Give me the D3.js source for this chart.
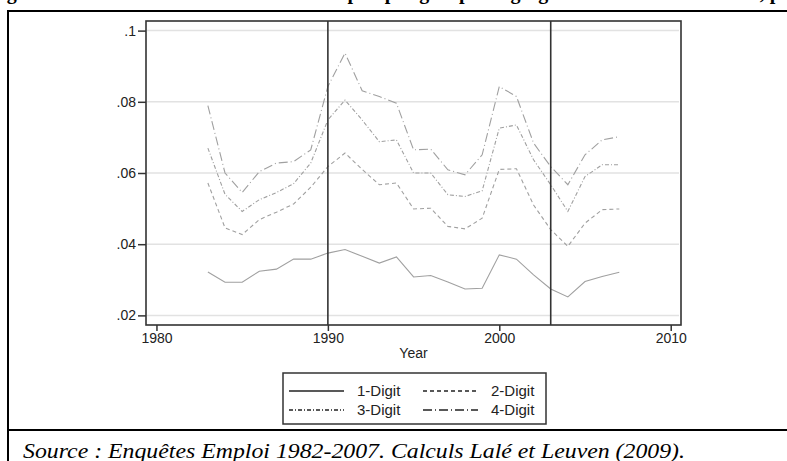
<!DOCTYPE html>
<html>
<head>
<meta charset="utf-8">
<script src="https://cdn.jsdelivr.net/npm/d3@7"></script>
<style>
  body { margin: 0; background: #fff; }
  svg { display: block; }
  .tick text { font-family: "Liberation Sans", Arial, sans-serif; font-size: 14px; fill: #222; }
</style>
</head>
<body>
<div id="chart"></div>
<script>
// data
var years = [1983, 1984, 1985, 1986, 1987, 1988, 1989, 1990, 1991, 1992, 1993, 1994, 1995,
    1996, 1997, 1998, 1999, 2000, 2001, 2002, 2003, 2004, 2005, 2006, 2007];
var digit1 = [.0322, .0293, .0293, .0324, .0330, .0358, .0358, .0375, .0385, .0366, .0347, .0364, .0308,
    .0312, .0294, .0274, .0276, .0370, .0358, .0314, .0274, .0252, .0295, .0309, .0321];
var digit2 = [.0572, .0446, .0427, .0469, .0490, .0513, .0560, .0618, .0656, .0610, .0567, .0572, .0499,
    .0501, .0450, .0443, .0473, .0610, .0612, .0510, .0441, .0394, .0459, .0497, .0499];
var digit3 = [.0670, .0540, .0492, .0525, .0545, .0570, .0628, .0749, .0805, .0749, .0688, .0693, .0600,
    .0600, .0539, .0534, .0550, .0726, .0735, .0637, .0567, .0492, .0590, .0623, .0623];
var digit4 = [.0789, .0600, .0545, .0604, .0628, .0632, .0665, .0843, .0937, .0831, .0815, .0796, .0665,
    .0667, .0609, .0595, .0651, .0843, .0815, .0684, .0618, .0567, .0651, .0693, .0702];
var seriesNames = ["1-Digit", "2-Digit", "3-Digit", "4-Digit"];
var xTicks = [1980, 1990, 2000, 2010];
var yTicks = [.02, .04, .06, .08, .1];
var markerYears = [1990, 2003];

var dashes = ["none", "4,3", "4,2,1,2", "9,3,1,3"];
var allSeries = [digit1, digit2, digit3, digit4];

var W = 787, H = 461;
var plot = { left: 146, right: 681, top: 21, bottom: 325 };

var svg = d3.select("#chart").append("svg")
    .attr("width", W)
    .attr("height", H);

svg.append("rect").attr("width", W).attr("height", H).attr("fill", "#fff");

// caption sits above the crop, only its lower edge shows
svg.append("text")
    .attr("x", -11)
    .attr("y", -1)
    .style("font-family", "Liberation Serif, serif")
    .style("font-weight", "bold")
    .style("font-size", "20px")
    .text("Figure 4 : Mobilité intersectorielle de l'emploi par groupe d'agrégation de la nomenclature, par période");

// outer table borders
svg.append("line").attr("x1", 8).attr("x2", W).attr("y1", 11).attr("y2", 11)
    .attr("stroke", "#000").attr("stroke-width", 2);
svg.append("line").attr("x1", 8).attr("x2", 8).attr("y1", 10).attr("y2", H)
    .attr("stroke", "#000").attr("stroke-width", 2);
svg.append("line").attr("x1", 8).attr("x2", W).attr("y1", 430).attr("y2", 430)
    .attr("stroke", "#000").attr("stroke-width", 2);

var x = d3.scaleLinear()
    .domain([1979.39, 2010.6])
    .range([plot.left, plot.right]);

var y = d3.scaleLinear()
    .domain([0.0173, 0.1027])
    .range([plot.bottom, plot.top]);

// grid
svg.append("g")
    .selectAll("line")
    .data(yTicks)
    .enter().append("line")
    .attr("x1", plot.left + 1)
    .attr("x2", plot.right - 2)
    .attr("y1", function(d) { return y(d); })
    .attr("y2", function(d) { return y(d); })
    .attr("stroke", "#e2e2e2")
    .attr("stroke-width", 1.5);

// series
var line = d3.line()
    .x(function(d, i) { return x(years[i]); })
    .y(function(d) { return y(d); });

svg.append("g")
    .selectAll("path")
    .data(allSeries)
    .enter().append("path")
    .attr("d", line)
    .attr("fill", "none")
    .attr("stroke", "#a0a0a0")
    .attr("stroke-width", 1.1)
    .attr("stroke-dasharray", function(d, i) { return dashes[i]; });

// period markers
svg.append("g")
    .selectAll("line")
    .data(markerYears)
    .enter().append("line")
    .attr("x1", function(d) { return x(d); })
    .attr("x2", function(d) { return x(d); })
    .attr("y1", plot.top)
    .attr("y2", plot.bottom)
    .attr("stroke", "#333")
    .attr("stroke-width", 1.6);

// frame
svg.append("rect")
    .attr("x", plot.left)
    .attr("y", plot.top)
    .attr("width", plot.right - plot.left)
    .attr("height", plot.bottom - plot.top)
    .attr("fill", "none")
    .attr("stroke", "#333")
    .attr("stroke-width", 1.6);

var yAxis = d3.axisLeft(y)
    .tickValues(yTicks)
    .tickSize(8)
    .tickPadding(2)
    .tickFormat(function(d) { return d3.format(".2~f")(d).replace(/^0/, ""); });

var xAxis = d3.axisBottom(x)
    .tickValues(xTicks)
    .tickSize(6)
    .tickPadding(2)
    .tickFormat(d3.format("d"));

var gy = svg.append("g")
    .attr("transform", "translate(" + plot.left + ",0)")
    .call(yAxis);
gy.select(".domain").remove();
gy.selectAll(".tick line").attr("stroke", "#333").attr("stroke-width", 1.5);

var gx = svg.append("g")
    .attr("transform", "translate(0," + plot.bottom + ")")
    .call(xAxis);
gx.select(".domain").remove();
gx.selectAll(".tick line").attr("stroke", "#333").attr("stroke-width", 1.5);

svg.append("text")
    .attr("x", (plot.left + plot.right) / 2)
    .attr("y", 358)
    .attr("text-anchor", "middle")
    .style("font-family", "Liberation Sans, Arial, sans-serif")
    .style("font-size", "14px")
    .style("fill", "#222")
    .text("Year");

// legend
var legend = svg.append("g").attr("transform", "translate(283,373)");
legend.append("rect")
    .attr("width", 263)
    .attr("height", 51)
    .attr("fill", "#fff")
    .attr("stroke", "#333")
    .attr("stroke-width", 1.5);

var item = legend.selectAll(".item")
    .data(seriesNames)
    .enter().append("g")
    .attr("class", "item")
    .attr("transform", function(d, i) {
        return "translate(" + (6 + (i % 2) * 134) + "," + (18 + Math.floor(i / 2) * 19) + ")";
    });

item.append("line")
    .attr("x1", 0)
    .attr("x2", 55)
    .attr("stroke", "#222")
    .attr("stroke-width", 1.4)
    .attr("stroke-dasharray", function(d, i) { return dashes[i]; });

item.append("text")
    .attr("x", 68)
    .attr("y", 5)
    .style("font-family", "Liberation Sans, Arial, sans-serif")
    .style("font-size", "15px")
    .style("fill", "#222")
    .text(function(d) { return d; });

svg.append("text")
    .attr("x", 23)
    .attr("y", 458)
    .attr("textLength", 662)
    .attr("lengthAdjust", "spacingAndGlyphs")
    .style("font-family", "Liberation Serif, serif")
    .style("font-style", "italic")
    .style("font-size", "21px")
    .text("Source : Enquêtes Emploi 1982-2007. Calculs Lalé et Leuven (2009).");
</script>
</body>
</html>
